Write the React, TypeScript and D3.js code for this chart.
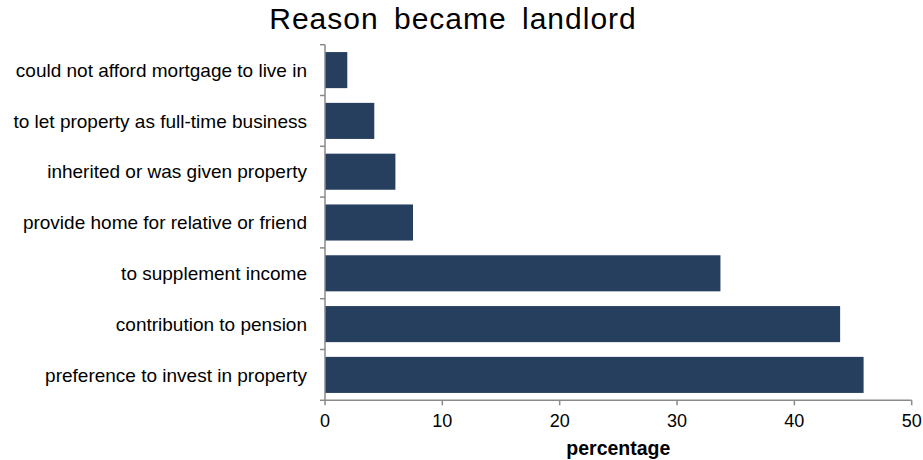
import React from "react";
import * as d3 from "d3";

const categories = [
  "could not afford mortgage to live in",
  "to let property as full-time business",
  "inherited or was given property",
  "provide home for relative or friend",
  "to supplement income",
  "contribution to pension",
  "preference to invest in property",
];
const values = [1.9, 4.2, 6.0, 7.5, 33.7, 43.9, 45.9];
const xTicks = [0, 10, 20, 30, 40, 50];
const title = "Reason became landlord";
const xLabel = "percentage";

export default function App() {
  const W = 923, H = 460;
  const left = 325, right = 911.7, top = 44.7, bottom = 400.3;
  const x = d3.scaleLinear().domain([0, 50]).range([left, right]);
  const y = d3.scaleBand().domain(categories).range([top, bottom]).paddingInner(0.29).paddingOuter(0.145);
  const yb = d3.scaleBand().domain(categories).range([top, bottom]);
  const axisColor = "#8a8a8a";
  const font = "Liberation Sans, Arial, sans-serif";
  return (
    <svg width={W} height={H} style={{ position: "absolute", left: 0, top: 0, background: "#fff" }} fontFamily={font}>
      <text x={453} y={29} textAnchor="middle" fontSize={30} letterSpacing={1} wordSpacing={6} fill="#000">{title}</text>
      {categories.map((c, i) => (
        <rect key={c} x={x(0)} y={y(c)} width={x(values[i]) - x(0)} height={y.bandwidth()} fill="#263f5f" />
      ))}
      {/* y axis */}
      <line x1={left} x2={left} y1={top} y2={bottom} stroke={axisColor} strokeWidth={1.5} />
      {categories.map((c) => (
        <line key={"t" + c} x1={left - 5} x2={left} y1={yb(c)} y2={yb(c)} stroke={axisColor} strokeWidth={1.5} />
      ))}
      <line x1={left - 5} x2={left} y1={bottom} y2={bottom} stroke={axisColor} strokeWidth={1.5} />
      {categories.map((c) => (
        <text key={"l" + c} x={307} y={(yb(c) as number) + yb.bandwidth() / 2} dy="0.35em" textAnchor="end" fontSize={19} fill="#000">{c}</text>
      ))}
      {/* x axis */}
      <line x1={left} x2={right} y1={bottom} y2={bottom} stroke={axisColor} strokeWidth={1.5} />
      {xTicks.map((t) => (
        <g key={"x" + t}>
          <line x1={x(t)} x2={x(t)} y1={bottom} y2={bottom + 5} stroke={axisColor} strokeWidth={1.5} />
          <text x={x(t)} y={427} textAnchor="middle" fontSize={18} fill="#000">{t}</text>
        </g>
      ))}
      <text x={(left + right) / 2} y={455} textAnchor="middle" fontSize={19.5} fontWeight="bold" fill="#000">{xLabel}</text>
    </svg>
  );
}
